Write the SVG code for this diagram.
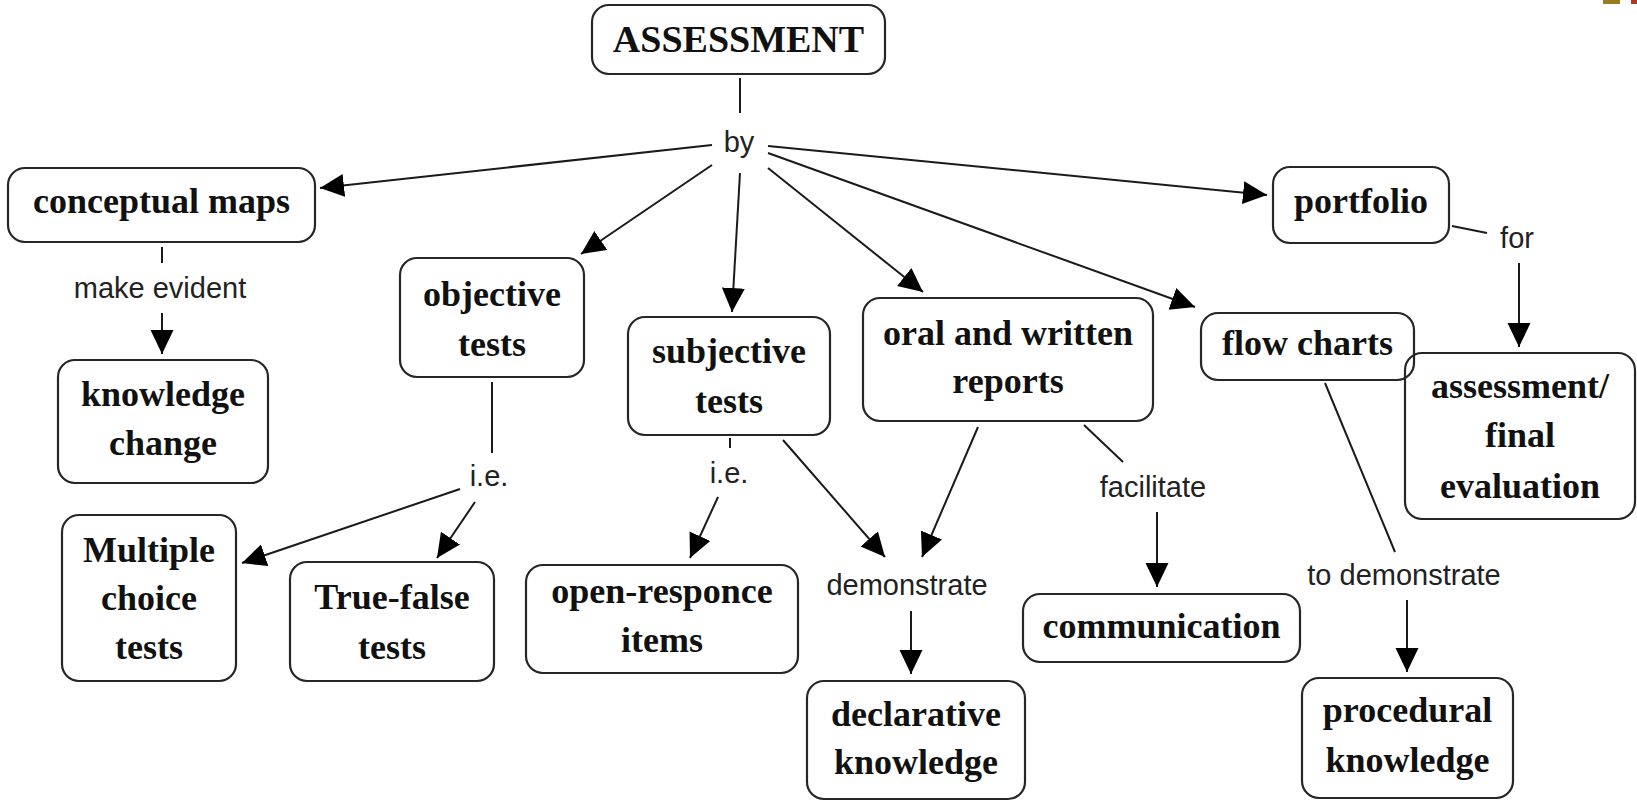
<svg xmlns="http://www.w3.org/2000/svg" width="1637" height="801" viewBox="0 0 1637 801">
<style>
.box{fill:none;stroke:#262626;stroke-width:2.2}
.nt{font-family:"Liberation Serif","Times New Roman",serif;font-weight:bold;font-size:36px;fill:#111;text-anchor:middle}
.lb{font-family:"Liberation Sans",Arial,sans-serif;font-size:29px;fill:#222;text-anchor:middle}
.cn line{stroke:#1a1a1a;stroke-width:2}
.cn line.a{marker-end:url(#ah)}
</style>
<defs>
<marker id="ah" markerUnits="userSpaceOnUse" markerWidth="26" markerHeight="24" refX="24" refY="11.5" orient="auto">
<path d="M0,0 L24,11.5 L0,23 z" fill="#000"/>
</marker>
</defs>
<rect x="0" y="0" width="1637" height="801" fill="#fff"/>
<rect x="1603" y="0" width="17" height="4" fill="#9c7a1e"/>
<rect x="1631" y="0" width="6" height="4" fill="#b8342a"/>

<g id="connectors" class="cn">
<line x1="740" y1="78" x2="740" y2="113"/>
<line class="a" x1="712" y1="145" x2="320" y2="188"/>
<line class="a" x1="712" y1="165" x2="581" y2="254"/>
<line class="a" x1="740" y1="173" x2="732" y2="312"/>
<line class="a" x1="768" y1="168" x2="923" y2="292"/>
<line class="a" x1="768" y1="153" x2="1195" y2="307"/>
<line class="a" x1="768" y1="146" x2="1267" y2="195"/>
<line x1="162" y1="247" x2="162" y2="263"/>
<line class="a" x1="162" y1="313" x2="162" y2="354"/>
<line x1="492" y1="382" x2="492" y2="453"/>
<line class="a" x1="460" y1="489" x2="242" y2="563"/>
<line class="a" x1="475" y1="502" x2="437" y2="558"/>
<line x1="730" y1="438" x2="730" y2="448"/>
<line class="a" x1="718" y1="497" x2="690" y2="558"/>
<line class="a" x1="783" y1="440" x2="885" y2="557"/>
<line class="a" x1="978" y1="427" x2="922" y2="557"/>
<line class="a" x1="911" y1="611" x2="911" y2="674"/>
<line x1="1084" y1="425" x2="1123" y2="462"/>
<line class="a" x1="1157" y1="512" x2="1157" y2="587"/>
<line x1="1452" y1="226" x2="1487" y2="233"/>
<line class="a" x1="1519" y1="263" x2="1519" y2="347"/>
<line x1="1325" y1="383" x2="1395" y2="552"/>
<line class="a" x1="1407" y1="600" x2="1407" y2="672"/>
</g>

<g id="labels">
<text class="lb" x="739" y="152">by</text>
<text class="lb" x="160" y="298">make evident</text>
<text class="lb" x="489" y="486">i.e.</text>
<text class="lb" x="729" y="483">i.e.</text>
<text class="lb" x="907" y="595">demonstrate</text>
<text class="lb" x="1153" y="497">facilitate</text>
<text class="lb" x="1404" y="585">to demonstrate</text>
<text class="lb" x="1517" y="248">for</text>
</g>

<g id="n-assessment"><rect class="box" x="592" y="5" width="293" height="69" rx="17"/><text class="nt" x="738.5" y="52" style="font-size:38px">ASSESSMENT</text></g>
<g id="n-conceptual"><rect class="box" x="8" y="168" width="307" height="74" rx="17"/><text class="nt" x="161.5" y="213">conceptual maps</text></g>
<g id="n-knowledge-change"><rect class="box" x="58" y="360" width="210" height="123" rx="17"/><text class="nt" x="163" y="406">knowledge</text><text class="nt" x="163" y="455">change</text></g>
<g id="n-objective"><rect class="box" x="400" y="258" width="184" height="119" rx="17"/><text class="nt" x="492" y="306">objective</text><text class="nt" x="492" y="356">tests</text></g>
<g id="n-subjective"><rect class="box" x="628" y="317" width="202" height="118" rx="17"/><text class="nt" x="729" y="363">subjective</text><text class="nt" x="729" y="413">tests</text></g>
<g id="n-oral"><rect class="box" x="863" y="298" width="290" height="123" rx="17"/><text class="nt" x="1008" y="345">oral and written</text><text class="nt" x="1008" y="393">reports</text></g>
<g id="n-flow"><rect class="box" x="1201" y="313" width="213" height="67" rx="17"/><text class="nt" x="1307.5" y="355">flow charts</text></g>
<g id="n-portfolio"><rect class="box" x="1273" y="167" width="176" height="76" rx="17"/><text class="nt" x="1361" y="213">portfolio</text></g>
<g id="n-final"><rect class="box" x="1405" y="353" width="230" height="166" rx="17"/><text class="nt" x="1520" y="398">assessment/</text><text class="nt" x="1520" y="447">final</text><text class="nt" x="1520" y="498">evaluation</text></g>
<g id="n-multiple"><rect class="box" x="62" y="515" width="174" height="166" rx="17"/><text class="nt" x="149" y="562">Multiple</text><text class="nt" x="149" y="610">choice</text><text class="nt" x="149" y="659">tests</text></g>
<g id="n-truefalse"><rect class="box" x="290" y="562" width="204" height="119" rx="17"/><text class="nt" x="392" y="609">True-false</text><text class="nt" x="392" y="659">tests</text></g>
<g id="n-open"><rect class="box" x="526" y="565" width="272" height="108" rx="17"/><text class="nt" x="662" y="603">open-responce</text><text class="nt" x="662" y="652">items</text></g>
<g id="n-declarative"><rect class="box" x="807" y="681" width="218" height="118" rx="17"/><text class="nt" x="916" y="726">declarative</text><text class="nt" x="916" y="774">knowledge</text></g>
<g id="n-communication"><rect class="box" x="1023" y="594" width="277" height="68" rx="17"/><text class="nt" x="1161.5" y="638">communication</text></g>
<g id="n-procedural"><rect class="box" x="1302" y="678" width="211" height="120" rx="17"/><text class="nt" x="1407.5" y="722">procedural</text><text class="nt" x="1407.5" y="772">knowledge</text></g>
</svg>
